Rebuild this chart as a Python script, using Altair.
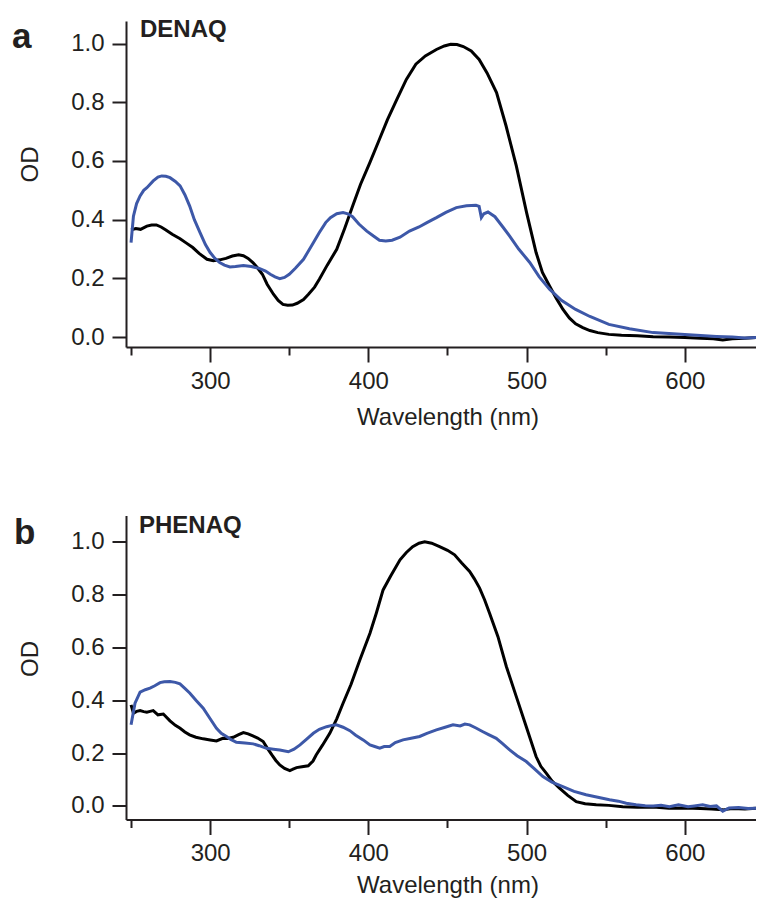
import altair as alt
import pandas as pd

# ---------------- data ----------------
# Panel a: DENAQ
a_black_wl = [250, 253, 256, 260, 263, 266, 269, 272, 276, 281, 285, 289, 293, 298, 302, 306, 310, 314, 318,
              321, 324, 327, 330, 333, 336, 340, 343, 346, 349, 352, 355, 359, 362, 366, 369, 374, 380, 385,
              390, 395, 401, 407, 412, 418, 424, 430, 436, 443, 448, 452, 456, 460, 465, 470, 475, 481, 487,
              493.5, 500, 506, 510, 514.5, 519, 523, 527, 531, 535.5, 540, 545, 552, 560, 570, 580, 590, 600,
              610, 618, 624, 630, 638, 645]
a_black_od = [0.365, 0.370, 0.367, 0.378, 0.382, 0.382, 0.375, 0.365, 0.350, 0.335, 0.320, 0.305, 0.285, 0.265,
              0.260, 0.263, 0.268, 0.276, 0.280, 0.277, 0.268, 0.254, 0.235, 0.214, 0.180, 0.146, 0.125, 0.111,
              0.108, 0.109, 0.115, 0.128, 0.145, 0.170, 0.197, 0.245, 0.299, 0.370, 0.446, 0.520, 0.595, 0.674,
              0.740, 0.810, 0.878, 0.930, 0.958, 0.980, 0.992, 0.998, 0.997, 0.990, 0.975, 0.946, 0.900, 0.833,
              0.720, 0.583, 0.424, 0.288, 0.220, 0.174, 0.130, 0.094, 0.065, 0.045, 0.032, 0.022, 0.015, 0.009,
              0.006, 0.004, 0.001, 0.000, -0.002, -0.004, -0.006, -0.010, -0.006, -0.004, -0.002]
a_blue_wl = [250, 251.5, 253.5, 255.7, 258, 260, 264, 267, 269.4, 272, 274.6, 278, 281, 284, 287, 290, 293.6,
             297, 300, 303, 306, 309, 312.5, 316, 321, 326, 331, 335, 338, 341, 344, 347, 350, 354, 359, 364,
             369, 373, 376, 380, 384, 387, 390, 394, 399, 403, 407, 411, 415, 420, 426, 432, 437, 443, 449,
             455.6, 462, 468, 470, 471.4, 473, 475.6, 480, 485, 489.3, 495, 502, 508, 514.5, 522, 531, 540,
             552, 565, 580, 590, 600, 610, 620, 630, 638, 645]
a_blue_od = [0.322, 0.412, 0.455, 0.481, 0.500, 0.509, 0.532, 0.545, 0.549, 0.548, 0.543, 0.530, 0.515, 0.485,
             0.447, 0.400, 0.356, 0.315, 0.288, 0.268, 0.254, 0.245, 0.239, 0.240, 0.244, 0.240, 0.234, 0.225,
             0.214, 0.205, 0.199, 0.203, 0.214, 0.235, 0.265, 0.310, 0.356, 0.390, 0.407, 0.420, 0.424, 0.420,
             0.410, 0.385, 0.361, 0.345, 0.330, 0.327, 0.330, 0.340, 0.361, 0.375, 0.390, 0.407, 0.425, 0.441,
             0.447, 0.449, 0.445, 0.407, 0.420, 0.426, 0.410, 0.375, 0.344, 0.300, 0.254, 0.205, 0.163, 0.125,
             0.094, 0.070, 0.043, 0.028, 0.015, 0.012, 0.009, 0.005, 0.002, 0.000, -0.003, -0.002]

# Panel b: PHENAQ
b_black_wl = [250, 251.5, 253.5, 255.7, 258, 260, 262, 264, 267, 270.4, 274.6, 278, 281, 284, 287, 291, 295.6,
              300, 304, 308, 311, 314.6, 318, 321, 324, 327, 330, 333.5, 336, 339, 341.5, 344, 347, 350.4, 352,
              354.6, 358, 362, 365, 367, 371, 375.6, 380, 384, 389, 394.6, 401, 405, 409.3, 414, 420, 424, 428,
              432, 435.6, 440, 445, 450, 454.5, 459, 464, 467, 470.3, 473.5, 476.6, 481.9, 487.2, 493.5, 499.8,
              506, 509, 512.4, 516, 520.8, 526, 531.4, 537, 544, 552, 560.8, 570, 580, 590, 600, 610, 617, 624,
              630, 638, 645]
b_black_od = [0.383, 0.351, 0.358, 0.361, 0.357, 0.355, 0.358, 0.361, 0.345, 0.348, 0.322, 0.305, 0.294, 0.280,
              0.269, 0.260, 0.254, 0.250, 0.246, 0.256, 0.255, 0.260, 0.270, 0.278, 0.273, 0.265, 0.257, 0.244,
              0.220, 0.193, 0.172, 0.155, 0.142, 0.134, 0.138, 0.145, 0.148, 0.152, 0.170, 0.193, 0.230, 0.275,
              0.330, 0.389, 0.460, 0.553, 0.654, 0.730, 0.818, 0.870, 0.932, 0.960, 0.982, 0.995, 1.000, 0.995,
              0.982, 0.968, 0.951, 0.920, 0.888, 0.860, 0.825, 0.780, 0.730, 0.641, 0.528, 0.414, 0.300, 0.187,
              0.150, 0.124, 0.095, 0.067, 0.040, 0.016, 0.008, 0.004, 0.002, -0.003, -0.005, -0.004, -0.009,
              -0.008, -0.010, -0.012, -0.015, -0.010, -0.012, -0.009]
b_blue_wl = [250, 252.5, 255.7, 259, 262, 265, 268.3, 271, 274.6, 278, 280.9, 284, 287.2, 291, 295.6, 300, 304,
             307, 310.3, 313, 316.6, 322, 327.2, 331, 335.6, 340, 344, 349.4, 353, 356.8, 361, 365.2, 369,
             373.6, 377, 379.8, 384, 388.3, 392, 396.7, 401, 404, 407.2, 410, 413.5, 417, 421.9, 427, 432.4,
             437, 443, 448, 453.5, 458, 461, 464, 468, 472.4, 476, 480.8, 485, 489.3, 494, 499.8, 505, 510.3,
             516, 522.9, 530, 537.6, 545, 552.4, 558, 563, 569.2, 575, 580, 585, 590.3, 596, 602, 606, 611.3,
             616, 620, 624, 628, 634, 640, 645]
b_blue_od = [0.307, 0.389, 0.431, 0.440, 0.446, 0.455, 0.467, 0.470, 0.471, 0.468, 0.462, 0.445, 0.427, 0.400,
             0.370, 0.330, 0.294, 0.275, 0.263, 0.252, 0.241, 0.238, 0.235, 0.228, 0.218, 0.215, 0.212, 0.205,
             0.215, 0.231, 0.253, 0.275, 0.290, 0.300, 0.305, 0.307, 0.298, 0.285, 0.268, 0.250, 0.231, 0.225,
             0.219, 0.225, 0.225, 0.240, 0.250, 0.256, 0.263, 0.275, 0.288, 0.297, 0.307, 0.303, 0.310, 0.307,
             0.295, 0.281, 0.270, 0.256, 0.235, 0.212, 0.190, 0.168, 0.140, 0.111, 0.090, 0.073, 0.055, 0.042,
             0.033, 0.023, 0.018, 0.010, 0.004, 0.001, 0.000, 0.002, -0.003, 0.004, -0.003, 0.000, 0.004,
             -0.002, 0.000, -0.020, -0.008, -0.006, -0.010, -0.009]

x_ticks = [250, 300, 350, 400, 450, 500, 550, 600]
y_ticks = [0.0, 0.2, 0.4, 0.6, 0.8, 1.0]
x_domain = [246.8, 645]

FONT = "Liberation Sans"
TXT = "#231f20"
BLUE = "#3d58a8"
W = 630


def make_panel(bk_wl, bk_od, bl_wl, bl_od, ydom, height, letter, letter_x, letter_y,
               name, name_x, name_y, xtitle_y):
    df = pd.DataFrame({
        "wl": bk_wl + bl_wl,
        "od": bk_od + bl_od,
        "s": ["black"] * len(bk_wl) + ["blue"] * len(bl_wl),
    })
    xaxis = alt.Axis(
        values=x_ticks, title="Wavelength (nm)", grid=False,
        labelExpr="datum.value % 100 === 0 ? datum.label : ''",
        tickSize={"condition": {"test": "datum.value % 100 === 0", "value": 15}, "value": 8},
        tickWidth=2, tickColor=TXT, domainWidth=2, domainColor=TXT,
        labelFont=FONT, labelFontSize=24, labelColor=TXT, labelBaseline="alphabetic",
        labelPadding=26, labelOverlap=False, labelFlush=False,
        titleFont=FONT, titleFontSize=24, titleFontWeight="normal", titleColor=TXT,
        titleBaseline="alphabetic", titleX=321.5, titleY=xtitle_y, titleAlign="center",
    )
    yaxis = alt.Axis(
        values=y_ticks, format=".1f", title="OD", grid=False,
        tickSize=14, tickWidth=2, tickColor=TXT, domainWidth=2, domainColor=TXT,
        labelFont=FONT, labelFontSize=24, labelColor=TXT, labelPadding=8,
        labelOverlap=False, labelFlush=False,
        titleFont=FONT, titleFontSize=24, titleFontWeight="normal", titleColor=TXT,
        titleBaseline="alphabetic", titleAlign="center", titleAngle=270,
        titleX=-88.5, titleY=143,
    )
    lines = alt.Chart(df).mark_line(strokeWidth=3, clip=True).encode(
        x=alt.X("wl:Q", scale=alt.Scale(domain=x_domain, nice=False, zero=False), axis=xaxis),
        y=alt.Y("od:Q", scale=alt.Scale(domain=ydom, nice=False, zero=False), axis=yaxis),
        color=alt.Color("s:N", scale=alt.Scale(domain=["black", "blue"], range=["#000000", BLUE]), legend=None),
    )
    lab = alt.Chart(pd.DataFrame({"t": [letter]})).mark_text(
        align="left", baseline="alphabetic", font=FONT, fontSize=35, fontWeight="bold", color=TXT
    ).encode(text="t:N", x=alt.value(letter_x), y=alt.value(letter_y))
    nm = alt.Chart(pd.DataFrame({"t": [name]})).mark_text(
        align="left", baseline="alphabetic", font=FONT, fontSize=24, fontWeight="bold", color=TXT
    ).encode(text="t:N", x=alt.value(name_x), y=alt.value(name_y))
    return alt.layer(lines, lab, nm).properties(
        width=W, height=height,
        view=alt.ViewBackground(stroke="transparent", strokeWidth=0),
    )


pa = make_panel(a_black_wl, a_black_od, a_blue_wl, a_blue_od, [-0.034, 1.077], 326,
                "a", -114, 26.6, "DENAQ", 14, 15.6, 77)
pb = make_panel(b_black_wl, b_black_od, b_blue_wl, b_blue_od, [-0.0515, 1.100], 304,
                "b", -112, 28.3, "PHENAQ", 13, 17.3, 73)

chart = alt.vconcat(pa, pb, spacing=168.5, bounds="flush").properties(
    padding={"left": 12, "top": 17, "right": 0, "bottom": 0}
).configure_view(stroke="transparent", strokeWidth=0).configure(background="white")

chart.save("out.html", embed_options={"renderer": "svg", "actions": False})
